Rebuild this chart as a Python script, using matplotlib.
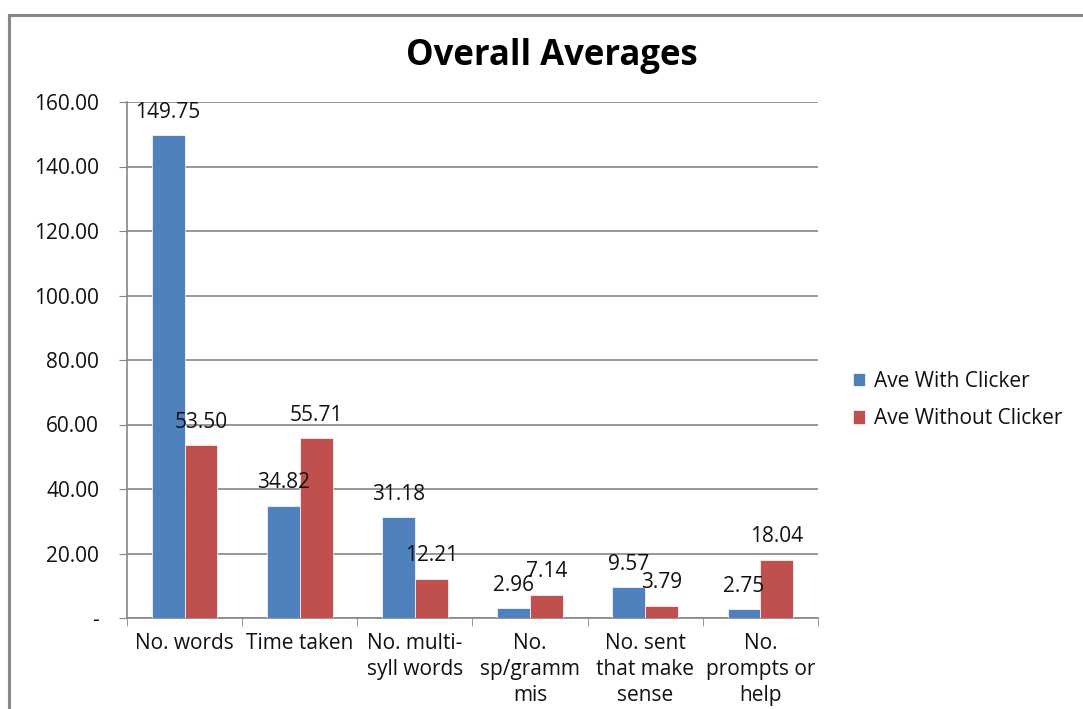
import numpy as np
import matplotlib.pyplot as plt
from matplotlib.patches import Rectangle

plt.rcParams['font.family'] = ['Open Sans', 'DejaVu Sans']

categories = ['No. words', 'Time taken', 'No. multi-\nsyll words', 'No.\nsp/gramm\nmis',
              'No. sent\nthat make\nsense', 'No.\nprompts or\nhelp']
with_clicker = [149.75, 34.82, 31.18, 2.96, 9.57, 2.75]
without_clicker = [53.50, 55.71, 12.21, 7.14, 3.79, 18.04]
series_names = ['Ave With Clicker', 'Ave Without Clicker']
colors = ['#4F81BD', '#C0504D']
text_color = '#111111'

fig = plt.figure(figsize=(10.83, 7.09), dpi=100)
ax = fig.add_axes([127 / 1083, 1 - 618 / 709, (818 - 127) / 1083, (618 - 102) / 709])

x = np.arange(len(categories))
w = 0.285
bars1 = ax.bar(x - w / 2, with_clicker, w, color=colors[0], edgecolor='white', linewidth=0.5,
               label=series_names[0], zorder=3)
bars2 = ax.bar(x + w / 2, without_clicker, w, color=colors[1], edgecolor='white', linewidth=0.5,
               label=series_names[1], zorder=3)

for bars in (bars1, bars2):
    for b in bars:
        ax.annotate(f'{b.get_height():.2f}', (b.get_x() + b.get_width() / 2, b.get_height()),
                    xytext=(0, 9), textcoords='offset points', ha='center', va='bottom',
                    fontsize=15, color=text_color, zorder=4)

ax.set_xlim(-0.5, len(categories) - 0.5)
ax.set_ylim(0, 160)
yt = np.arange(0, 161, 20)
ax.set_yticks(yt)
ax.set_yticklabels(['-'] + [f'{v:.2f}' for v in yt[1:]])
ax.set_xticks(x)
ax.set_xticklabels(categories, linespacing=1.3)
ax.set_xticks(np.arange(-0.5, len(categories)), minor=True)
ax.tick_params(axis='x', which='major', length=0, pad=11, labelsize=15, colors=text_color)
ax.tick_params(axis='x', which='minor', length=6, color='#868686')
ax.tick_params(axis='y', length=6, labelsize=15, labelcolor=text_color, color='#868686', pad=14)

ax.yaxis.grid(True, color='#868686', linewidth=1.2, zorder=0)
ax.set_axisbelow(True)
for s in ['top', 'right']:
    ax.spines[s].set_visible(False)
for s in ['left', 'bottom']:
    ax.spines[s].set_color('#868686')
    ax.spines[s].set_linewidth(1.2)

fig.text(552 / 1083, 1 - 56 / 709, 'Overall Averages', ha='center', va='center',
         fontsize=25, fontweight='bold', color='black')

fig.legend(loc='center left', bbox_to_anchor=(834 / 1083, 1 - 400 / 709), frameon=False,
           fontsize=15, handlelength=0.6, handleheight=0.6, handletextpad=0.4,
           labelspacing=0.8, labelcolor=text_color)

fig.patches.append(Rectangle((9 / 1083, -0.05), 1.1, 1 - 15 / 709 + 0.05,
                             transform=fig.transFigure, fill=False,
                             edgecolor='#888888', linewidth=2.2))

fig.savefig('out.png', dpi=100)
